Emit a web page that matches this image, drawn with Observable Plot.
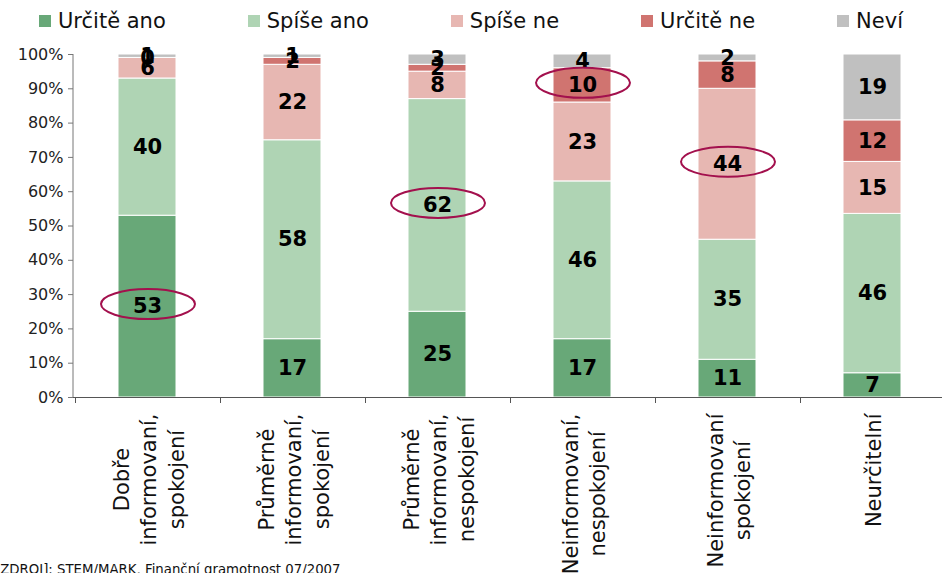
<!DOCTYPE html>
<html>
<head>
<meta charset="utf-8">
<script src="https://cdn.jsdelivr.net/npm/d3@7"></script>
<script src="https://cdn.jsdelivr.net/npm/@observablehq/plot@0.6"></script>
<style>
  html, body { margin: 0; padding: 0; background: #fff; overflow: hidden; }
  #wrap { width: 942px; height: 573px; position: relative; overflow: hidden; font-family: "DejaVu Sans", Verdana, sans-serif; }
  #legend { height: 40px; width: 1100px; display: flex; align-items: center; padding-left: 39px; box-sizing: border-box; padding-top: 2px; }
  .item { display: flex; align-items: center; margin-right: 82px; font-size: 21px; color: #111; white-space: nowrap; flex-shrink: 0; }
  .sw { width: 12px; height: 12px; margin-right: 7px; flex-shrink: 0; }
  #chart svg { overflow: visible; display: block; }
  #caption { font-size: 13.3px; color: #111; margin-left: -5px; line-height: 15px; padding-top: 2px; white-space: nowrap; }
</style>
</head>
<body>
<div id="wrap">
  <div id="legend"></div>
  <div id="chart"></div>
  <div id="caption"></div>
</div>
<script>
// ---- data ----
const categories = [
  "Dobře informovaní, spokojení",
  "Průměrně informovaní, spokojení",
  "Průměrně informovaní, nespokojení",
  "Neinformovaní, nespokojení",
  "Neinformovaní spokojení",
  "Neurčitelní"
];
const categoryLabels = [
  "Dobře\ninformovaní,\nspokojení",
  "Průměrně\ninformovaní,\nspokojení",
  "Průměrně\ninformovaní,\nnespokojení",
  "Neinformovaní,\nnespokojení",
  "Neinformovaní\nspokojení",
  "Neurčitelní"
];
const seriesNames = ["Určitě ano", "Spíše ano", "Spíše ne", "Určitě ne", "Neví"];
const seriesColors = ["#68a878", "#afd4b4", "#e7b7b2", "#d07470", "#c0c0c0"];
const urciteAno = [53, 17, 25, 17, 11, 7];
const spiseAno  = [40, 58, 62, 46, 35, 46];
const spiseNe   = [6, 22, 8, 23, 44, 15];
const urciteNe  = [0, 2, 2, 10, 8, 12];
const nevi      = [1, 1, 3, 4, 2, 19];
const yTicks = [0, 0.1, 0.2, 0.3, 0.4, 0.5, 0.6, 0.7, 0.8, 0.9, 1];
const highlights = [
  ["Dobře informovaní, spokojení", "Určitě ano"],
  ["Průměrně informovaní, nespokojení", "Spíše ano"],
  ["Neinformovaní, nespokojení", "Určitě ne"],
  ["Neinformovaní spokojení", "Spíše ne"]
];
const captionText = "[ZDROJ]: STEM/MARK, Finanční gramotnost 07/2007";

// ---- table ----
const seriesValues = [urciteAno, spiseAno, spiseNe, urciteNe, nevi];
const rows = [];
seriesNames.forEach((s, j) => categories.forEach((c, i) => rows.push({cat: c, series: s, value: seriesValues[j][i]})));

// ---- legend ----
const legend = document.getElementById("legend");
seriesNames.forEach((s, j) => {
  const it = document.createElement("div"); it.className = "item";
  const sw = document.createElement("div"); sw.className = "sw"; sw.style.background = seriesColors[j];
  const tx = document.createElement("span"); tx.textContent = s;
  it.appendChild(sw); it.appendChild(tx); legend.appendChild(it);
});
document.getElementById("caption").textContent = captionText;

// ---- label measurement ----
const ctx = document.createElement("canvas").getContext("2d");
const labelFont = 21;
ctx.font = `${labelFont}px "DejaVu Sans"`;
const blockLen = categoryLabels.map(l => d3.max(l.split("\n"), t => ctx.measureText(t).width));

const W = 942, H = 520, mT = 14, mB = 163, mL = 73, mR = -4;

// custom mark: axis lines, boundary ticks, highlight ellipses
function decorations(index, scales, values, dims) {
  const g = d3.create("svg:g");
  const x = scales.x, y = scales.y;
  const bw = typeof x.bandwidth === "function" ? x.bandwidth() : 0;
  const step = typeof x.step === "function" ? x.step() : (x(categories[1]) - x(categories[0]));
  const y0 = dims.height - dims.marginBottom;
  g.append("line").attr("x1", dims.marginLeft).attr("x2", dims.marginLeft)
    .attr("y1", dims.marginTop).attr("y2", y0).attr("stroke", "#777").attr("stroke-width", 1);
  g.append("line").attr("x1", dims.marginLeft).attr("x2", dims.width - dims.marginRight)
    .attr("y1", y0 + 0.5).attr("y2", y0 + 0.5).attr("stroke", "#555").attr("stroke-width", 1);
  categories.forEach(c => {
    const bx = Math.round(x(c) + bw / 2 - step / 2) + 0.5;
    g.append("line").attr("x1", bx).attr("x2", bx).attr("y1", y0).attr("y2", y0 + 6)
      .attr("stroke", "#555");
  });
  highlights.forEach(([c, s]) => {
    const i = categories.indexOf(c), j = seriesNames.indexOf(s);
    const vals = seriesValues.map(a => a[i]);
    const total = d3.sum(vals);
    const lo = d3.sum(vals.slice(0, j));
    const mid = (lo + vals[j] / 2) / total;
    g.append("ellipse").attr("cx", x(c) + bw / 2 + 1).attr("cy", y(mid) - 2)
      .attr("rx", 47).attr("ry", 15).attr("fill", "none")
      .attr("stroke", "#a3104d").attr("stroke-width", 2);
  });
  return g.node();
}

const labelMarks = categories.map((c, i) => Plot.text([c], {
  x: d => d,
  text: () => categoryLabels[i],
  frameAnchor: "bottom",
  rotate: -90,
  textAnchor: "middle",
  lineAnchor: "middle",
  lineHeight: 1.3,
  fontSize: labelFont,
  fill: "#111",
  dy: 16 + blockLen[i] / 2
}));

const chart = Plot.plot({
  width: W, height: H,
  marginTop: mT, marginBottom: mB, marginLeft: mL, marginRight: mR,
  style: {fontFamily: '"DejaVu Sans", Verdana, sans-serif', background: "white", overflow: "visible"},
  x: {domain: categories, paddingInner: 0.6, paddingOuter: 0.3, axis: null},
  y: {domain: [0, 1], axis: null},
  color: {domain: seriesNames, range: seriesColors},
  marks: [
    Plot.barY(rows, Plot.stackY({x: "cat", y: "value", z: "series", fill: "series", offset: "normalize", stroke: "white", strokeWidth: 1})),
    Plot.text(rows, Plot.stackY({x: "cat", y: "value", z: "series", text: "value", offset: "normalize", fontSize: 21, fontWeight: "bold", fill: "#000"})),
    Plot.axisY({ticks: yTicks, tickFormat: d3.format(".0%"), tickSize: 5, tickPadding: 5, fontSize: 16, color: "#222", stroke: "#777", label: null}),
    decorations,
    ...labelMarks
  ]
});
document.getElementById("chart").appendChild(chart);
</script>
</body>
</html>
